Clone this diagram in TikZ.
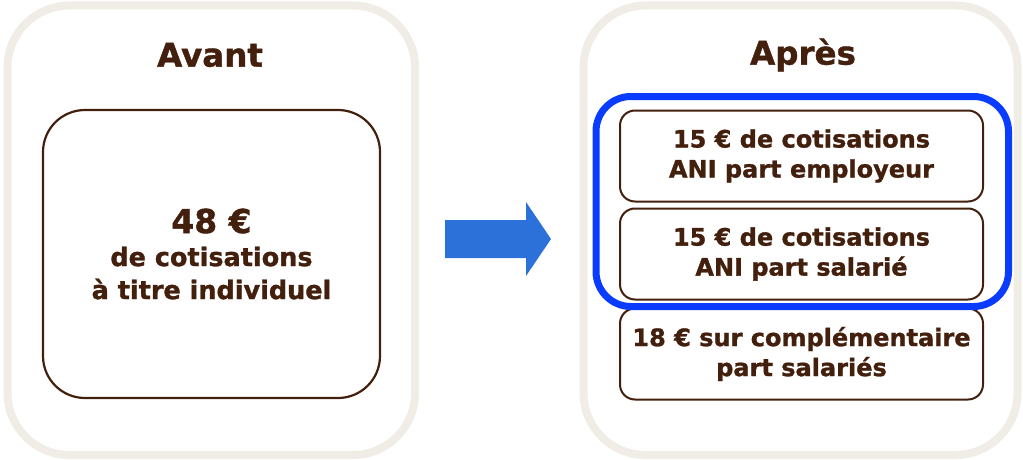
\documentclass[tikz,border=0pt]{standalone}
\usepackage{fontspec}
\setmainfont{DejaVu Sans}[BoldFeatures={FakeBold=1.2}]
\definecolor{panel}{HTML}{EFEDE5}
\definecolor{brown}{HTML}{43200D}
\definecolor{frameblue}{HTML}{0A3CFF}
\definecolor{arrowblue}{HTML}{2C70DA}
\begin{document}
\begin{tikzpicture}[x=1pt,y=-1pt,
  panelbox/.style={draw=panel,line width=8pt,rounded corners=62pt},
  bigbox/.style={draw=brown,line width=2.2pt,rounded corners=42pt,minimum width=337pt,minimum height=288pt,inner sep=0pt,text=brown,align=center,font=\bfseries\fontsize{25.5}{33}\selectfont},
  smallbox/.style={draw=brown,line width=2pt,rounded corners=15pt,minimum width=363pt,minimum height=91pt,inner sep=0pt,text=brown,align=center,font=\bfseries\fontsize{24}{30}\selectfont},
  title/.style={text=brown,font=\bfseries\fontsize{32.5}{36}\selectfont,inner sep=0pt}]
\useasboundingbox (0,0) rectangle (1023,460);
\draw[panelbox] (7.5,5.5) rectangle (415,455);
\draw[panelbox] (583.5,5.5) rectangle (1017.5,455);
\node[title] (avant) at (210,55) {Avant};
\node[title] (apres) at (803,55) {Après};
\node[bigbox] (before) at (211.5,254) {{\fontsize{33}{35}\selectfont 48 €}\\de cotisations\\à titre individuel};
\node[smallbox] (emp) at (801.5,156) {15 € de cotisations\\ANI part employeur};
\node[smallbox] (sal) at (801.5,254) {15 € de cotisations\\ANI part salarié};
\node[smallbox] (comp) at (801.5,354) {18 € sur complémentaire\\part salariés};
\draw[frameblue,line width=7pt,rounded corners=35pt] (596,96.5) rectangle (1008.5,306.5);
\fill[arrowblue] (445,220) -- (526,220) -- (526,202) -- (551,239) -- (526,276) -- (526,258) -- (445,258) -- cycle;
\end{tikzpicture}
\end{document}
